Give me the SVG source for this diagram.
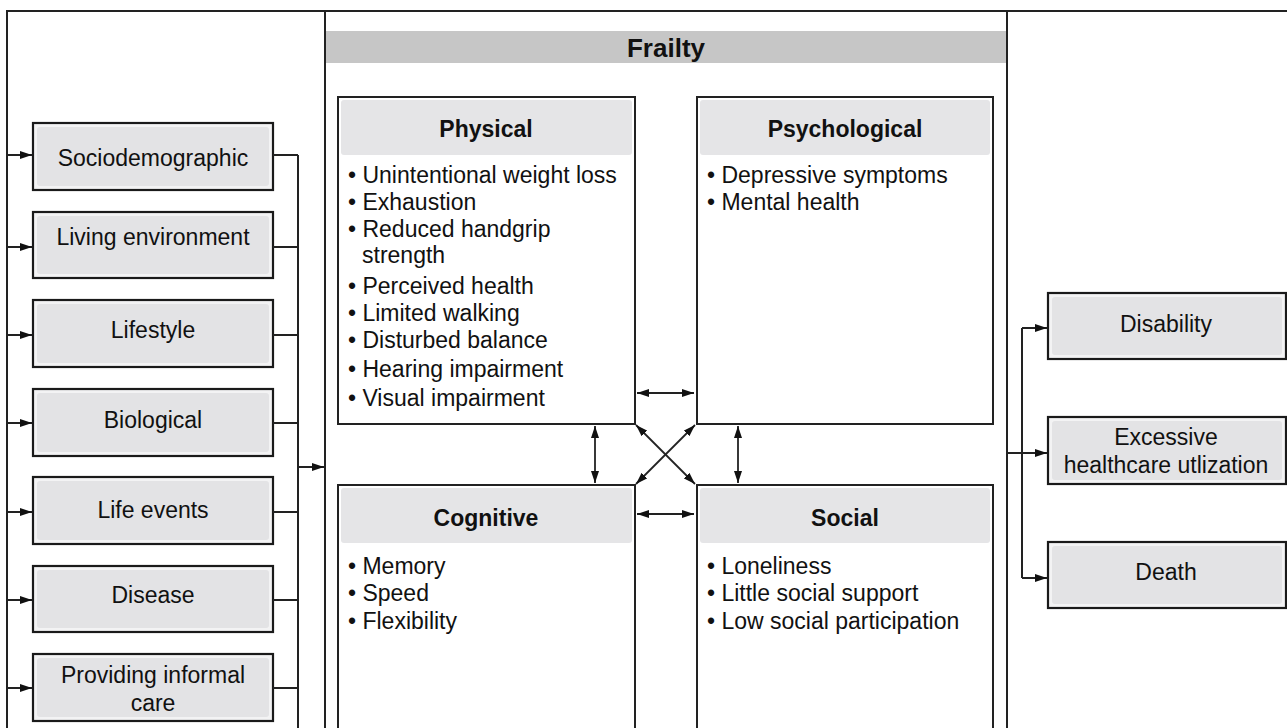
<svg xmlns="http://www.w3.org/2000/svg" width="1287" height="728" viewBox="0 0 1287 728">
<defs>
<marker id="ah" viewBox="0 0 12 8" refX="12" refY="4" markerWidth="12" markerHeight="8" markerUnits="userSpaceOnUse" orient="auto-start-reverse">
<path d="M0,0 L12,4 L0,8 z" fill="#111"/>
</marker>
<style>
text{font-family:"Liberation Sans",Arial,sans-serif;fill:#111;}
.lbl{font-size:23px;text-anchor:middle;}
.ttl{font-size:23px;font-weight:bold;text-anchor:middle;}
.body{font-size:23px;}
.frame{fill:#fff;stroke:#222;stroke-width:2;}
.outer{fill:#f3f3f4;stroke:#1a1a1a;stroke-width:2.2;}
.inner{fill:#e3e3e5;}
.hdr{fill:#e5e5e7;}
.ln{fill:none;stroke:#222;stroke-width:2;}
.dbl{fill:none;stroke:#222;stroke-width:1.8;marker-start:url(#ah);marker-end:url(#ah);}
.arr{fill:none;stroke:#222;stroke-width:2;marker-end:url(#ah);}
</style>
</defs>
<rect width="1287" height="728" fill="#fff"/>

<g id="frailty">
<rect class="frame" x="325" y="11" width="682" height="730"/>
<rect x="326" y="31" width="680" height="32" fill="#c6c6c6"/>
<text x="666" y="57" style="font-size:26px;font-weight:bold;text-anchor:middle">Frailty</text>
</g>

<g id="physical">
<rect class="frame" x="338" y="97" width="297" height="327"/>
<rect class="hdr" x="341" y="100" width="291" height="55" rx="3"/>
<text class="ttl" x="486" y="137">Physical</text>
<text class="body" x="348" y="183">• Unintentional weight loss</text>
<text class="body" x="348" y="210">• Exhaustion</text>
<text class="body" x="348" y="237">• Reduced handgrip</text>
<text class="body" x="362" y="263">strength</text>
<text class="body" x="348" y="294">• Perceived health</text>
<text class="body" x="348" y="321">• Limited walking</text>
<text class="body" x="348" y="348">• Disturbed balance</text>
<text class="body" x="348" y="377">• Hearing impairment</text>
<text class="body" x="348" y="406">• Visual impairment</text>
</g>

<g id="psychological">
<rect class="frame" x="697" y="97" width="296" height="327"/>
<rect class="hdr" x="700" y="100" width="290" height="55" rx="3"/>
<text class="ttl" x="845" y="137">Psychological</text>
<text class="body" x="707" y="183">• Depressive symptoms</text>
<text class="body" x="707" y="210">• Mental health</text>
</g>

<g id="cognitive">
<rect class="frame" x="338" y="485" width="297" height="260"/>
<rect class="hdr" x="341" y="488" width="291" height="55" rx="3"/>
<text class="ttl" x="486" y="526">Cognitive</text>
<text class="body" x="348" y="574">• Memory</text>
<text class="body" x="348" y="601">• Speed</text>
<text class="body" x="348" y="629">• Flexibility</text>
</g>

<g id="social">
<rect class="frame" x="697" y="485" width="296" height="260"/>
<rect class="hdr" x="700" y="488" width="290" height="55" rx="3"/>
<text class="ttl" x="845" y="526">Social</text>
<text class="body" x="707" y="574">• Loneliness</text>
<text class="body" x="707" y="601">• Little social support</text>
<text class="body" x="707" y="629">• Low social participation</text>
</g>

<g id="sociodemographic">
<rect class="outer" x="33" y="123" width="240" height="67"/>
<rect class="inner" x="37" y="127" width="232" height="59" rx="3"/>
<text class="lbl" x="153" y="166">Sociodemographic</text>
</g>
<g id="living-environment">
<rect class="outer" x="33" y="212" width="240" height="66"/>
<rect class="inner" x="37" y="216" width="232" height="58" rx="3"/>
<text class="lbl" x="153" y="245">Living environment</text>
</g>
<g id="lifestyle">
<rect class="outer" x="33" y="300" width="240" height="67"/>
<rect class="inner" x="37" y="304" width="232" height="59" rx="3"/>
<text class="lbl" x="153" y="338">Lifestyle</text>
</g>
<g id="biological">
<rect class="outer" x="33" y="389" width="240" height="67"/>
<rect class="inner" x="37" y="393" width="232" height="59" rx="3"/>
<text class="lbl" x="153" y="428">Biological</text>
</g>
<g id="life-events">
<rect class="outer" x="33" y="477" width="240" height="67"/>
<rect class="inner" x="37" y="481" width="232" height="59" rx="3"/>
<text class="lbl" x="153" y="518">Life events</text>
</g>
<g id="disease">
<rect class="outer" x="33" y="566" width="240" height="66"/>
<rect class="inner" x="37" y="570" width="232" height="58" rx="3"/>
<text class="lbl" x="153" y="603">Disease</text>
</g>
<g id="informal-care">
<rect class="outer" x="33" y="654" width="240" height="67"/>
<rect class="inner" x="37" y="658" width="232" height="59" rx="3"/>
<text class="lbl" x="153" y="683">Providing informal</text>
<text class="lbl" x="153" y="711">care</text>
</g>

<g id="disability">
<rect class="outer" x="1048" y="293" width="238" height="66"/>
<rect class="inner" x="1052" y="297" width="230" height="58" rx="3"/>
<text class="lbl" x="1166" y="332">Disability</text>
</g>
<g id="healthcare">
<rect class="outer" x="1048" y="417" width="238" height="67"/>
<rect class="inner" x="1052" y="421" width="230" height="59" rx="3"/>
<text class="lbl" x="1166" y="445">Excessive</text>
<text class="lbl" x="1166" y="473">healthcare utlization</text>
</g>
<g id="death">
<rect class="outer" x="1048" y="542" width="238" height="66"/>
<rect class="inner" x="1052" y="546" width="230" height="58" rx="3"/>
<text class="lbl" x="1166" y="580">Death</text>
</g>

<g id="connectors">
<path class="ln" d="M1287,11 H7 V728" stroke="#444"/>
<path class="arr" d="M7,155 H32"/>
<path class="arr" d="M7,247 H32"/>
<path class="arr" d="M7,335 H32"/>
<path class="arr" d="M7,423 H32"/>
<path class="arr" d="M7,512 H32"/>
<path class="arr" d="M7,600 H32"/>
<path class="arr" d="M7,688 H32"/>
<path class="ln" d="M273,155 H298 M273,247 H298 M273,335 H298 M273,423 H298 M273,512 H298 M273,600 H298 M273,688 H298 M298,155 V728"/>
<path class="arr" d="M298,467 H324"/>
<path class="arr" d="M1007,453 H1047"/>
<path class="ln" d="M1022,328 V578"/>
<path class="arr" d="M1022,328 H1047"/>
<path class="arr" d="M1022,578 H1047"/>
<path class="dbl" d="M637,393 H694"/>
<path class="dbl" d="M637,514 H694"/>
<path class="dbl" d="M595,426 V483"/>
<path class="dbl" d="M738,426 V483"/>
<path class="dbl" d="M636,425 L695,484"/>
<path class="dbl" d="M695,425 L636,484"/>
</g>
</svg>
